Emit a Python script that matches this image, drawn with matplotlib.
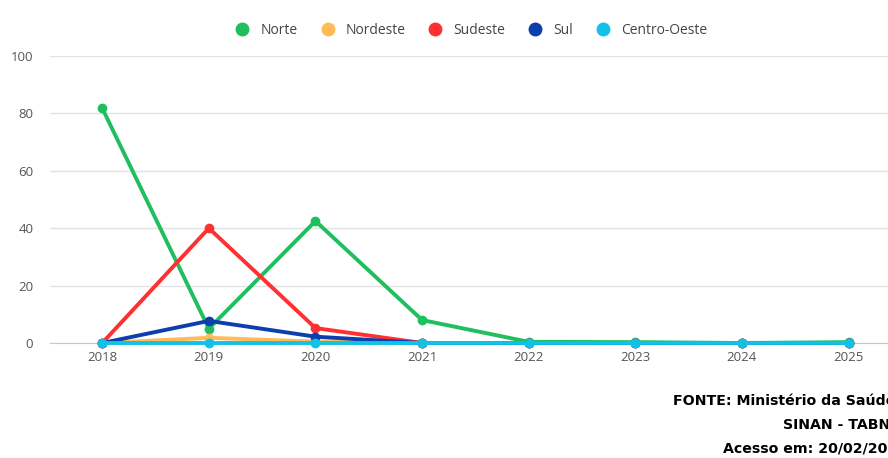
import numpy as np
import matplotlib.pyplot as plt

plt.rcParams['font.family'] = ['Open Sans', 'DejaVu Sans']

years = [2018, 2019, 2020, 2021, 2022, 2023, 2024, 2025]
norte = [81.8, 5.0, 42.5, 8.0, 0.4, 0.3, 0.0, 0.3]
nordeste = [0.0, 1.8, 0.5, 0.0, 0.0, 0.0, 0.0, 0.0]
sudeste = [0.0, 40.0, 5.2, 0.0, 0.0, 0.0, 0.0, 0.0]
sul = [0.0, 7.7, 2.2, 0.0, 0.0, 0.0, 0.0, 0.0]
centro_oeste = [0.0, 0.0, 0.0, 0.0, 0.0, 0.0, 0.0, 0.0]

series = [
    ("Norte", norte, "#1fbf5f"),
    ("Nordeste", nordeste, "#ffbb55"),
    ("Sudeste", sudeste, "#ff3030"),
    ("Sul", sul, "#0b3fae"),
    ("Centro-Oeste", centro_oeste, "#12c1e6"),
]

fig = plt.figure(figsize=(8.88, 4.58), dpi=100)
ax = fig.add_axes([50 / 888, 115 / 458, 838 / 888, 287 / 458])

for name, vals, col in series:
    ax.plot(years, vals, color=col, lw=2.8, marker='o', ms=6,
            label=name, clip_on=False, zorder=3)

ax.set_xlim(2017.51, 2025.37)
ax.set_ylim(0, 100)
ax.set_yticks(np.arange(0, 101, 20))
ax.set_xticks(years)
ax.grid(axis='y', color='#e3e3e3', lw=1)
ax.set_axisbelow(True)
for s in ['top', 'right', 'left']:
    ax.spines[s].set_visible(False)
ax.spines['bottom'].set_color('#c8c8c8')
ax.tick_params(length=0, labelsize=9.5, colors='#555555', pad=6)
ax.tick_params(axis='y', pad=12)

leg = fig.legend(loc='center', bbox_to_anchor=(472 / 888, 1 - 30 / 458), ncol=5,
                 frameon=False, fontsize=10, handlelength=0.8, handletextpad=0.9,
                 columnspacing=1.75, markerscale=1.5)
for h in leg.legend_handles:
    h.set_linestyle('none')
for t in leg.get_texts():
    t.set_color('#444444')

# footnote runs past the right edge, as in the original
foot = ["FONTE: Ministério da Saúde", "SINAN - TABNET", "Acesso em: 20/02/2025"]
foot_x = [673, 783, 723]
for i, line in enumerate(foot):
    fig.text(foot_x[i] / 888, 1 - (401 + 24 * i) / 458, line, ha='left', va='center',
             fontsize=10.2, fontweight='bold', family=['DejaVu Sans'],
             color='black')

fig.savefig('out.png', dpi=100)
